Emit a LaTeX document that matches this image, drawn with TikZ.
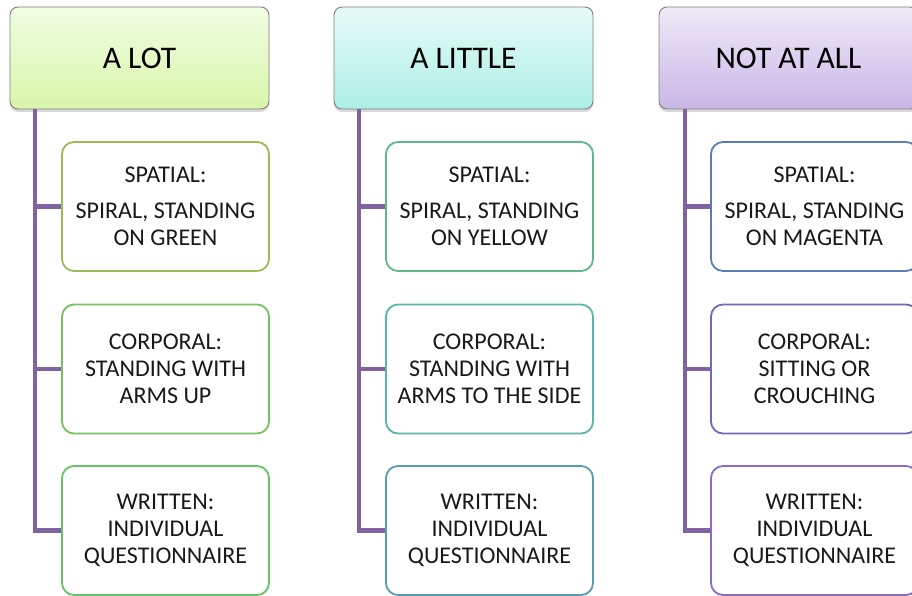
\documentclass[tikz,border=0pt]{standalone}
\usepackage{fontspec}
\setmainfont{Carlito}
\usetikzlibrary{shadows}

\definecolor{trunkpurple}{HTML}{8064A2}
\definecolor{headgray}{HTML}{7F7F7F}
\definecolor{lotA}{HTML}{F1FCE2}
\definecolor{lotB}{HTML}{D8F6AA}
\definecolor{littleA}{HTML}{E6FAF7}
\definecolor{littleB}{HTML}{ADEFE5}
\definecolor{notA}{HTML}{EFEAF8}
\definecolor{notB}{HTML}{C9B6E6}
\definecolor{spA}{HTML}{9BBB59}
\definecolor{coA}{HTML}{79C05E}
\definecolor{wrA}{HTML}{66C36A}
\definecolor{spB}{HTML}{5DB88A}
\definecolor{coB}{HTML}{5BB5A8}
\definecolor{wrB}{HTML}{5A9CB5}
\definecolor{spC}{HTML}{5B7DB5}
\definecolor{coC}{HTML}{6E6AB8}
\definecolor{wrC}{HTML}{8A6CC0}

\begin{document}
\begin{tikzpicture}[x=1pt, y=-1pt,
        head/.style={draw=headgray, line width=0.9pt, rounded corners=8pt,
            minimum width=259pt, minimum height=102pt, inner sep=0pt,
            font=\fontsize{31.5}{36}\selectfont,
            drop shadow={shadow xshift=0pt, shadow yshift=-3pt, opacity=0.3}},
        leaf/.style={line width=1.8pt, fill=white, rounded corners=12pt,
            minimum width=207pt, minimum height=129pt, inner sep=0pt,
            align=center, text=black!90, font=\fontsize{24}{27}\selectfont},
        trunk/.style={draw=trunkpurple, line width=4.5pt}]
        \useasboundingbox (0,0) rectangle (912,596);
        % Draw headers
        \foreach \c/\x/\txt/\ta/\tb in {A/0/A LOT/lotA/lotB, B/324/A LITTLE/littleA/littleB,
            C/649/NOT AT ALL/notA/notB}
        \node[head, top color=\ta, bottom color=\tb] (hd\c) at (139.5+\x,58) {\txt};
        % Draw spatial boxes
        \foreach \c/\x/\col in {A/0/GREEN, B/324/YELLOW, C/649/MAGENTA}
        \node[leaf, draw=sp\c] (sp\c) at (165.5+\x,206.5) {SPATIAL:\\[9pt]SPIRAL, STANDING\\ON \col};
        % Draw corporal boxes
        \node[leaf, draw=coA] (coA) at (165.5,369) {CORPORAL:\\STANDING WITH\\ARMS UP};
        \node[leaf, draw=coB] (coB) at (489.5,369) {CORPORAL:\\STANDING WITH\\ARMS TO THE SIDE};
        \node[leaf, draw=coC] (coC) at (814.5,369) {CORPORAL:\\SITTING OR\\CROUCHING};
        % Draw written boxes
        \foreach \c/\x in {A/0, B/324, C/649}
        \node[leaf, draw=wr\c] (wr\c) at (165.5+\x,530.5) {WRITTEN:\\INDIVIDUAL\\QUESTIONNAIRE};
        % Draw trunks and branches
        \foreach \c/\x in {A/0, B/324, C/650}
        {
        \coordinate (tr\c) at (35+\x,109.5);
        \draw[trunk] (tr\c) |- (wr\c.west);
        \draw[trunk] (tr\c |- sp\c.west) -- (sp\c.west);
        \draw[trunk] (tr\c |- co\c.west) -- (co\c.west);
        }
    \end{tikzpicture}
\end{document}
